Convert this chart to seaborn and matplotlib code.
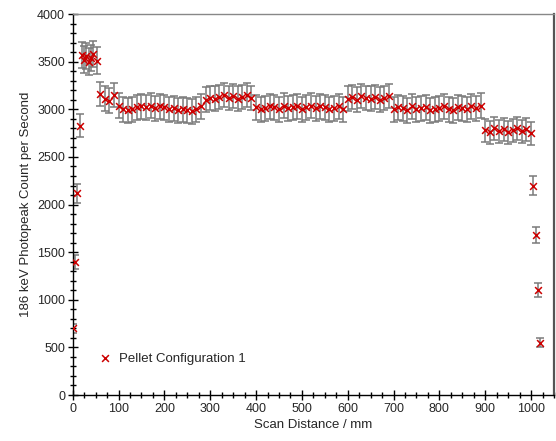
import numpy as np
import pandas as pd
import matplotlib
matplotlib.use("Agg")
import matplotlib.pyplot as plt
from matplotlib.ticker import MultipleLocator
import seaborn as sns

# scan positions (mm)
scan_mm = [0, 5, 10, 15,
           20, 25, 30, 35, 40, 45, 52,
           60, 70, 80, 90,
           100, 110, 120, 130, 140, 150, 160, 170, 180, 190,
           200, 210, 220, 230, 240, 250, 260, 270, 280,
           290, 300, 310, 320, 330, 340, 350, 360, 370, 380, 390,
           400, 410, 420, 430, 440, 450, 460, 470, 480, 490,
           500, 510, 520, 530, 540, 550, 560, 570, 580, 590,
           600, 610, 620, 630, 640, 650, 660, 670, 680, 690,
           700, 710, 720, 730, 740, 750, 760, 770, 780, 790,
           800, 810, 820, 830, 840, 850, 860, 870, 880, 890,
           900, 910, 920, 930, 940, 950, 960, 970, 980, 990, 1000,
           1005, 1010, 1015, 1020]

# 186 keV photopeak count rate (counts/s)
counts = [700, 1400, 2120, 2830,
          3570, 3520, 3560, 3500, 3540, 3580, 3510,
          3160, 3110, 3090, 3150,
          3040, 3000, 2990, 3000, 3020, 3030, 3020, 3040, 3010, 3030,
          3020, 3000, 3010, 2990, 3000, 2990, 2980, 3000, 3030,
          3100, 3120, 3110, 3130, 3150, 3120, 3140, 3110, 3130, 3150, 3120,
          3020, 3000, 3010, 3030, 3020, 3000, 3040, 3010, 3020, 3030,
          3000, 3020, 3040, 3010, 3030, 3020, 3000, 3010, 3030, 3000,
          3110, 3130, 3100, 3140, 3120, 3110, 3130, 3100, 3120, 3140,
          3000, 3020, 3010, 2990, 3030, 3000, 3010, 3020, 2990, 3000,
          3010, 3030, 3000, 2990, 3020, 3010, 3000, 3030, 3010, 3040,
          2780, 2760, 2800, 2770, 2790, 2760, 2780, 2800, 2770, 2790, 2750,
          2200, 1680, 1100, 550]

# error bar half-widths (counts/s)
errors = [50, 75, 100, 125,
          140, 140, 140, 140, 140, 140, 140,
          130, 130, 130, 130,
          130, 130, 130, 130, 130, 130, 130, 130, 130, 130,
          130, 130, 130, 130, 130, 130, 130, 130, 130,
          130, 130, 130, 130, 130, 130, 130, 130, 130, 130, 130,
          130, 130, 130, 130, 130, 130, 130, 130, 130, 130,
          130, 130, 130, 130, 130, 130, 130, 130, 130, 130,
          130, 130, 130, 130, 130, 130, 130, 130, 130, 130,
          130, 130, 130, 130, 130, 130, 130, 130, 130, 130,
          130, 130, 130, 130, 130, 130, 130, 130, 130, 130,
          120, 120, 120, 120, 120, 120, 120, 120, 120, 120, 120,
          100, 85, 75, 45]

df = pd.DataFrame({"scan": scan_mm, "cps": counts, "err": errors})

sns.set_style("ticks")
plt.rcParams["font.family"] = ["Liberation Sans", "DejaVu Sans"]

fig = plt.figure(figsize=(5.56, 4.41), dpi=100)
ax = fig.add_axes([0.1308, 0.1043, 0.8656, 0.8637])

ax.errorbar(df["scan"], df["cps"], yerr=df["err"], fmt="none",
            ecolor="#7a7a7a", elinewidth=1.1, capsize=3, capthick=1.1,
            zorder=2)
sns.scatterplot(data=df, x="scan", y="cps", marker="x", color="#cc0000",
                s=24, linewidth=1.1, ax=ax, zorder=3,
                label="Pellet Configuration 1")

ax.set_xlim(0, 1050)
ax.set_ylim(0, 4000)
ax.xaxis.set_major_locator(MultipleLocator(100))
ax.xaxis.set_minor_locator(MultipleLocator(25))
ax.yaxis.set_major_locator(MultipleLocator(500))
ax.yaxis.set_minor_locator(MultipleLocator(100))
ax.set_xticks([0, 100, 200, 300, 400, 500, 600, 700, 800, 900, 1000])

ax.tick_params(which="major", direction="inout", length=7, width=1.0,
               color="black", labelsize=9, pad=2)
ax.tick_params(which="minor", direction="inout", length=5, width=1.0,
               color="black")

for side in ["left", "bottom"]:
    ax.spines[side].set_color("black")
    ax.spines[side].set_linewidth(1.0)
ax.spines["top"].set_color("#888888")
ax.spines["top"].set_linewidth(1.0)
ax.spines["right"].set_color("#555555")
ax.spines["right"].set_linewidth(1.6)

ax.set_xlabel("Scan Distance / mm", fontsize=9.5, labelpad=3)
ax.set_ylabel("186 keV Photopeak Count per Second", fontsize=9.5, labelpad=4)

ax.legend(loc="lower left", bbox_to_anchor=(0.02, 0.055), frameon=False,
          fontsize=9.5, handletextpad=0.1, borderpad=0.2, markerscale=1.0)

fig.savefig("out.png", dpi=100)
